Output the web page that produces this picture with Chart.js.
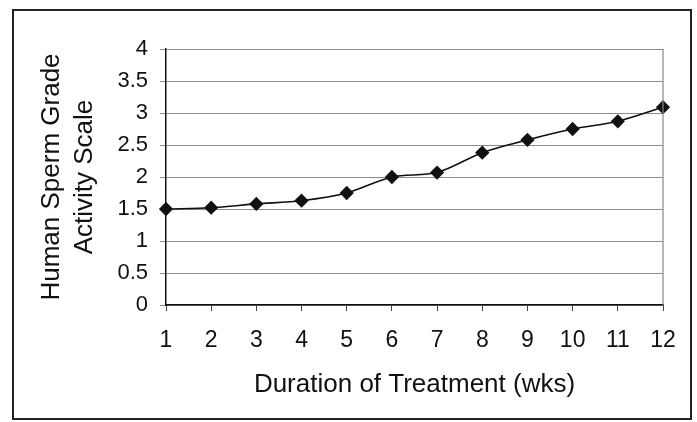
<!DOCTYPE html>
<html lang="en">

<head>
    <meta charset="UTF-8">
    <title>Sperm Activity vs Treatment Duration</title>
    <script src="https://cdn.jsdelivr.net/npm/chart.js"></script>
    <style>
        html, body { margin: 0; padding: 0; background: #fff; }
        #wrap { width: 697px; height: 422px; }
    </style>
</head>

<body>
    <div id="wrap">
        <canvas id="activity_chart"></canvas>
    </div>
    <script>
        // Data
        const weeks = ['1', '2', '3', '4', '5', '6', '7', '8', '9', '10', '11', '12'];
        const activityScale = [1.5, 1.52, 1.58, 1.63, 1.75, 2.0, 2.07, 2.38, 2.58, 2.75, 2.87, 3.09];
        const yTicks = [0, 0.5, 1, 1.5, 2, 2.5, 3, 3.5, 4];

        const FONT = '"Liberation Sans", Arial, sans-serif';

        // white background + outer box + right edge of the plot area
        const framePlugin = {
            id: 'frame',
            beforeDraw(chart) {
                const c = chart.ctx;
                c.save();
                c.fillStyle = '#fff';
                c.fillRect(0, 0, chart.width, chart.height);
                c.restore();
            },
            afterDraw(chart) {
                const c = chart.ctx;
                const a = chart.chartArea;
                c.save();
                c.strokeStyle = '#888';
                c.lineWidth = 1.2;
                c.beginPath();
                c.moveTo(a.right, a.top);
                c.lineTo(a.right, a.bottom);
                c.stroke();
                c.strokeStyle = '#222';
                c.lineWidth = 2;
                c.strokeRect(13, 10, 678, 409);
                c.restore();
            }
        };

        const ctx = document.getElementById('activity_chart').getContext('2d');
        const activityChart = new Chart(ctx, {
            type: 'line',
            data: {
                labels: weeks,
                datasets: [{
                    label: 'Activity',
                    data: activityScale,
                    borderColor: '#111',
                    borderWidth: 1.6,
                    tension: 0.3,
                    pointStyle: 'rectRot',
                    pointRadius: 6,
                    pointBackgroundColor: '#111',
                    pointBorderColor: '#111',
                    fill: false
                }]
            },
            options: {
                responsive: true,
                maintainAspectRatio: false,
                animation: false,
                layout: { padding: { left: 0, top: 49, right: 34, bottom: 0 } },
                plugins: {
                    legend: { display: false },
                    tooltip: { enabled: false }
                },
                scales: {
                    x: {
                        type: 'category',
                        offset: false,
                        afterFit: (scale) => { scale.height = 117; },
                        border: { display: true, color: '#111', width: 1.5 },
                        grid: {
                            drawOnChartArea: false,
                            drawTicks: true,
                            tickLength: 6,
                            color: '#444'
                        },
                        ticks: {
                            color: '#111',
                            padding: 16,
                            maxRotation: 0,
                            autoSkip: false,
                            font: { family: FONT, size: 23 }
                        },
                        title: {
                            display: true,
                            text: 'Duration of Treatment (wks)',
                            color: '#111',
                            font: { family: FONT, size: 26 },
                            padding: { top: 0, bottom: 22 }
                        }
                    },
                    y: {
                        min: 0,
                        max: 4,
                        afterFit: (scale) => { scale.width = 166; },
                        afterBuildTicks: (scale) => {
                            scale.ticks = yTicks.map(v => ({ value: v }));
                        },
                        border: { display: true, color: '#111', width: 1.5 },
                        grid: {
                            color: '#8c8c8c',
                            lineWidth: 1,
                            tickLength: 6
                        },
                        ticks: {
                            color: '#111',
                            padding: 12,
                            font: { family: FONT, size: 22 },
                            callback: (value) => String(value)
                        },
                        title: {
                            display: true,
                            text: ['Human Sperm Grade', 'Activity Scale'],
                            color: '#111',
                            font: { family: FONT, size: 26, lineHeight: 1.27 },
                            padding: { top: 35, bottom: 0 }
                        }
                    }
                }
            },
            plugins: [framePlugin]
        });
    </script>
</body>

</html>
